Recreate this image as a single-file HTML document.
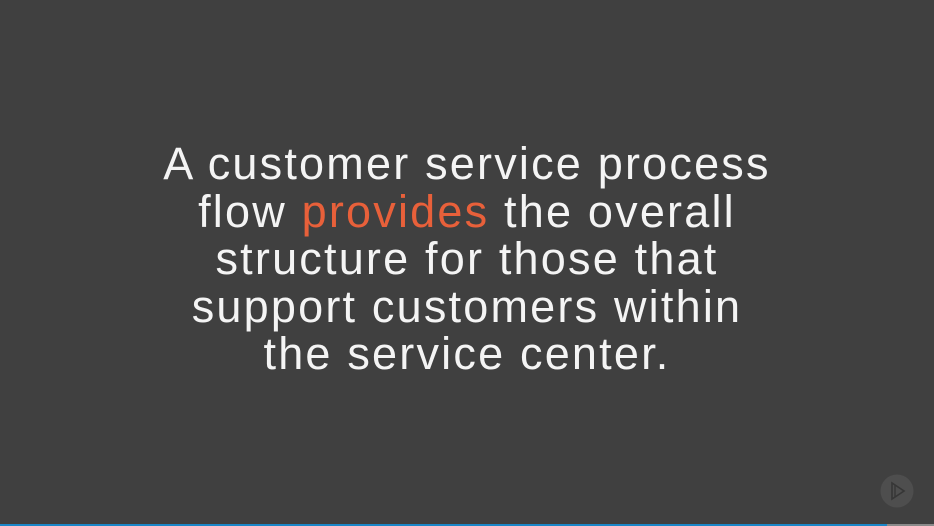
<!DOCTYPE html>
<html><head><meta charset="utf-8"><style>
html,body{margin:0;padding:0;}
body{width:934px;height:526px;background:#404040;position:relative;overflow:hidden;font-family:"Liberation Sans",sans-serif;}
.t{position:absolute;left:0;top:140px;width:934px;text-align:center;color:#f4f4f4;font-size:45px;line-height:47.5px;letter-spacing:2.2px;}
.o{color:#e8603a;}
.bar{position:absolute;left:0;top:524px;height:2px;width:887px;background:#1a86c8;}
.bar2{position:absolute;left:887px;top:524px;height:2px;width:47px;background:#8a8a8a;}
</style></head><body>
<div class="t">A customer service process<br>flow <span class="o">provides</span> the overall<br>structure for those that<br>support customers within<br>the service center.</div>
<svg style="position:absolute;left:880px;top:474px" width="34" height="34" viewBox="0 0 34 34">
<circle cx="17" cy="17" r="16.5" fill="#4e4e4e"/>
<path d="M12 9 L12 25 L24 17 Z" fill="none" stroke="#363636" stroke-width="1.6"/>
<path d="M15 11 L15 23" stroke="#363636" stroke-width="1.4"/>
</svg>
<div class="bar"></div><div class="bar2"></div>
</body></html>
